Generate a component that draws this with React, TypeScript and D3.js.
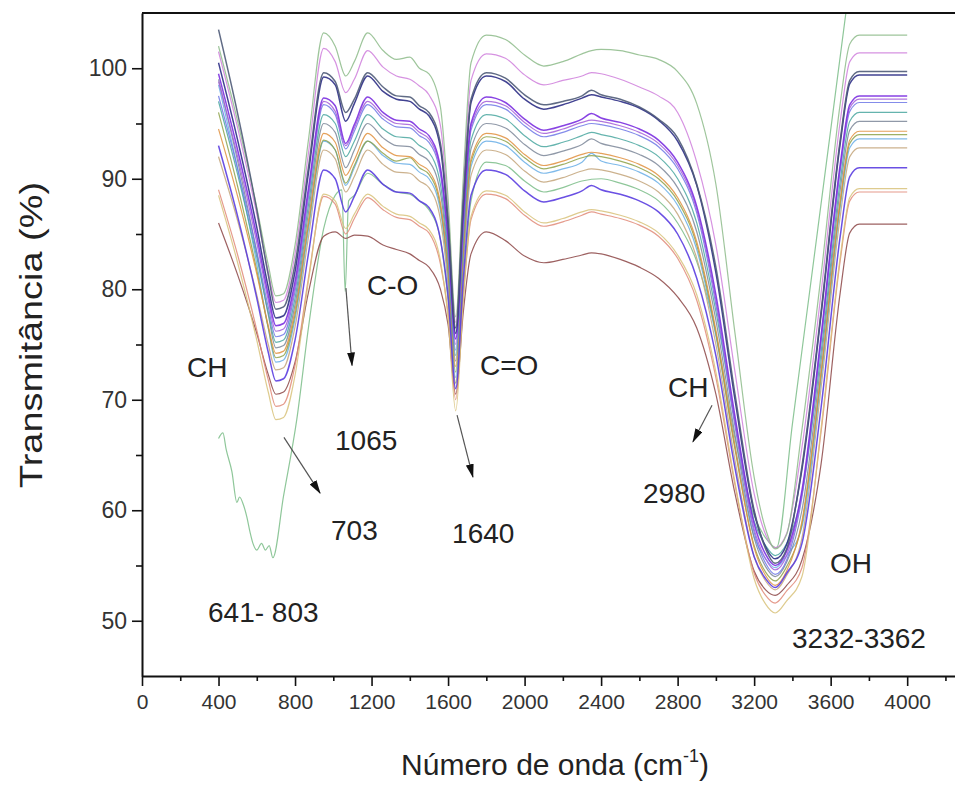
import React, { useEffect, useRef } from 'react';
import * as d3 from 'd3';

// wavenumber grid shared by the regular spectra (cm-1)
const WAVENUMBERS = [400, 500, 600, 660, 700, 740, 800, 870, 950, 1010, 1065, 1110, 1180, 1260, 1330, 1400, 1450, 1500, 1560, 1600, 1640, 1680, 1720, 1800, 1900, 2000, 2100, 2200, 2300, 2350, 2400, 2500, 2600, 2700, 2800, 2900, 3000, 3100, 3200, 3260, 3310, 3370, 3450, 3550, 3650, 3700, 3750, 4000];

// transmittance (%) of each sample
const green = [102.0, 95.2, 87.4, 82.2, 79.4, 79.6, 84.0, 93.5, 103.2, 102.0, 99.3, 100.6, 103.2, 101.6, 100.8, 101.0, 100.0, 99.5, 96.5, 88.2, 77.5, 90.2, 100.5, 103.0, 102.6, 101.2, 100.2, 100.6, 101.3, 101.6, 101.7, 101.6, 101.2, 100.8, 99.7, 96.8, 89.5, 76.0, 63.0, 58.3, 56.5, 57.8, 67.3, 81.3, 96.8, 102.2, 103.0, 103.0];
const orchid = [101.5, 94.6, 86.8, 81.6, 78.8, 79.0, 83.2, 92.3, 101.8, 100.6, 97.8, 99.0, 101.6, 100.1, 99.3, 99.0, 98.4, 97.6, 94.8, 87.2, 77.0, 89.2, 98.9, 101.3, 100.9, 99.4, 98.5, 98.9, 99.3, 99.6, 99.5, 99.0, 98.3, 97.5, 96.0, 91.5, 84.0, 72.5, 61.5, 57.8, 56.6, 57.9, 65.7, 79.7, 95.2, 100.6, 101.4, 101.4];
const slate = [103.5, 95.9, 87.2, 81.3, 78.2, 78.4, 82.3, 91.0, 99.6, 98.8, 96.0, 97.2, 99.6, 98.3, 97.5, 97.4, 96.6, 96.0, 93.2, 86.2, 76.5, 88.1, 97.2, 99.6, 99.1, 97.6, 96.7, 97.0, 97.5, 98.0, 97.6, 97.2, 96.5, 95.4, 93.7, 89.5, 82.0, 70.5, 60.0, 56.5, 55.2, 56.5, 64.0, 78.0, 93.5, 98.9, 99.7, 99.7];
const navy = [100.5, 93.5, 85.6, 80.2, 77.4, 77.6, 81.6, 90.5, 99.2, 98.5, 95.2, 96.8, 99.3, 97.9, 97.2, 97.0, 96.3, 95.7, 92.8, 85.8, 76.0, 87.7, 96.9, 99.3, 98.8, 97.2, 96.3, 96.7, 97.3, 97.6, 97.4, 97.0, 96.4, 95.3, 93.4, 89.4, 81.5, 70.0, 59.8, 56.7, 55.6, 56.9, 63.7, 77.7, 93.2, 98.6, 99.4, 99.4];
const purple = [99.5, 92.6, 84.8, 79.5, 76.7, 76.9, 80.7, 89.1, 97.3, 96.6, 93.2, 94.9, 97.4, 96.0, 95.3, 95.2, 94.5, 93.9, 91.0, 84.7, 75.5, 86.5, 95.0, 97.4, 96.9, 95.4, 94.4, 94.8, 95.4, 95.9, 95.5, 95.1, 94.5, 93.5, 91.5, 87.5, 79.5, 68.5, 58.8, 56.0, 55.0, 56.3, 61.8, 75.8, 91.3, 96.7, 97.5, 97.5];
const violet = [98.8, 92.0, 84.2, 79.0, 76.2, 76.4, 80.2, 88.7, 97.0, 96.1, 93.0, 94.6, 97.0, 95.7, 95.0, 94.9, 94.2, 93.6, 90.7, 84.3, 75.0, 86.1, 94.7, 97.0, 96.6, 95.1, 94.1, 94.5, 95.1, 95.3, 95.2, 94.8, 94.2, 93.2, 91.2, 87.2, 79.0, 68.0, 58.3, 55.6, 54.6, 55.9, 61.5, 75.5, 91.0, 96.4, 97.2, 97.2];
const periwinkle = [97.5, 90.9, 83.4, 78.4, 75.7, 75.9, 79.8, 88.3, 96.7, 95.8, 92.7, 94.3, 96.7, 95.4, 94.7, 94.6, 93.9, 93.3, 90.4, 83.9, 74.5, 85.7, 94.4, 96.7, 96.3, 94.8, 93.8, 94.2, 94.8, 95.0, 94.9, 94.5, 93.9, 92.9, 90.9, 86.9, 78.6, 67.6, 58.0, 55.2, 54.2, 55.5, 61.2, 75.2, 90.7, 96.1, 96.9, 96.9];
const teal = [97.0, 90.4, 82.9, 77.9, 75.2, 75.4, 79.2, 87.6, 95.8, 95.0, 92.0, 93.4, 95.8, 94.5, 93.8, 93.7, 93.0, 92.4, 89.5, 83.2, 74.0, 85.0, 93.5, 95.8, 95.4, 93.9, 92.9, 93.3, 93.9, 94.2, 94.0, 93.6, 93.0, 92.0, 90.0, 86.0, 78.0, 68.0, 59.0, 56.8, 55.9, 57.0, 61.5, 74.3, 89.8, 95.2, 96.0, 96.0];
const gray = [99.0, 91.6, 83.3, 77.7, 74.7, 74.9, 78.6, 86.9, 95.0, 94.2, 91.0, 92.6, 95.0, 93.7, 93.0, 92.9, 92.2, 91.6, 88.7, 82.6, 73.5, 84.4, 92.7, 95.0, 94.6, 93.1, 92.1, 92.5, 93.1, 93.6, 93.2, 92.8, 92.2, 91.2, 89.2, 85.2, 77.2, 66.8, 57.5, 54.9, 54.0, 55.3, 60.0, 73.5, 89.0, 94.4, 95.2, 95.2];
const orange = [94.5, 88.4, 81.4, 76.7, 74.2, 74.4, 78.1, 86.2, 94.1, 93.3, 90.3, 91.7, 94.1, 92.8, 92.1, 92.0, 91.3, 90.7, 87.8, 81.9, 73.0, 83.7, 91.8, 94.1, 93.7, 92.2, 91.2, 91.6, 92.2, 92.4, 92.3, 91.9, 91.3, 90.3, 88.3, 84.3, 76.3, 65.8, 56.6, 54.1, 53.2, 54.5, 59.0, 72.6, 88.1, 93.5, 94.3, 94.3];
const olive = [96.0, 89.3, 81.7, 76.5, 73.8, 74.0, 77.7, 85.8, 93.5, 92.6, 89.6, 91.2, 93.4, 92.3, 91.6, 91.9, 91.0, 90.4, 87.5, 81.5, 72.5, 83.3, 91.5, 93.8, 93.4, 91.9, 90.9, 91.3, 91.9, 92.1, 92.0, 91.6, 91.0, 90.0, 88.0, 84.0, 76.0, 65.5, 56.8, 54.4, 53.6, 54.9, 58.8, 72.3, 87.8, 93.2, 94.0, 94.0];
const sky = [98.5, 90.9, 82.3, 76.5, 73.4, 73.6, 77.3, 85.4, 93.4, 92.6, 89.4, 91.0, 93.4, 92.1, 91.4, 91.3, 90.6, 90.0, 87.1, 81.1, 72.0, 82.8, 91.1, 93.4, 93.0, 91.5, 90.5, 90.9, 91.5, 92.3, 91.6, 91.2, 90.6, 89.6, 87.6, 83.6, 75.8, 65.8, 57.6, 55.6, 54.8, 55.9, 58.5, 71.9, 87.4, 92.8, 93.6, 93.6];
const tan = [92.0, 86.2, 79.5, 75.0, 72.7, 72.9, 76.6, 84.7, 92.6, 91.8, 88.8, 90.2, 92.6, 91.3, 90.6, 90.5, 89.8, 89.2, 86.3, 80.4, 71.5, 82.2, 90.3, 92.6, 92.2, 90.7, 89.7, 90.1, 90.7, 90.9, 90.8, 90.4, 89.8, 88.8, 86.8, 82.8, 75.0, 64.5, 55.8, 53.6, 52.8, 54.1, 57.5, 71.1, 86.6, 92.0, 92.8, 92.8];
const blueViolet = [93.0, 86.6, 79.2, 74.3, 71.7, 71.9, 75.4, 83.2, 90.8, 90.0, 87.0, 88.4, 90.8, 89.5, 88.8, 88.7, 88.0, 87.4, 84.5, 79.4, 71.0, 81.0, 88.5, 90.8, 90.4, 88.9, 87.9, 88.3, 88.9, 89.4, 89.0, 88.6, 88.0, 87.0, 85.0, 81.0, 74.0, 63.8, 55.8, 53.8, 53.0, 54.3, 57.0, 69.3, 84.8, 90.2, 91.0, 91.0];
const khaki = [88.5, 82.4, 75.4, 70.7, 68.2, 68.4, 72.2, 80.7, 88.6, 88.0, 85.5, 86.8, 88.6, 87.5, 86.8, 86.6, 86.0, 85.4, 82.6, 77.4, 69.0, 79.1, 86.6, 88.9, 88.5, 87.0, 86.0, 86.4, 87.0, 87.2, 87.1, 86.7, 86.1, 85.1, 83.1, 79.5, 72.5, 62.5, 53.8, 51.5, 50.7, 51.8, 54.0, 67.4, 82.9, 88.3, 89.1, 89.1];
const salmon = [89.0, 83.1, 76.3, 71.8, 69.4, 69.6, 73.1, 81.0, 88.4, 87.7, 85.0, 86.4, 88.3, 87.2, 86.5, 86.3, 85.7, 85.1, 82.3, 77.9, 70.0, 79.4, 86.3, 88.6, 88.2, 86.7, 85.7, 86.1, 86.7, 87.0, 86.8, 86.4, 85.8, 84.8, 82.8, 79.0, 72.0, 62.3, 54.3, 52.3, 51.6, 52.7, 54.8, 67.1, 82.6, 88.0, 88.8, 88.8];
const brown = [86.0, 81.3, 76.0, 72.3, 70.5, 70.7, 73.4, 79.7, 84.8, 85.2, 84.6, 84.9, 84.8, 84.0, 83.6, 83.2, 82.6, 82.0, 80.0, 76.8, 70.5, 78.0, 83.2, 85.2, 84.4, 83.0, 82.4, 82.7, 83.1, 83.3, 83.2, 82.7, 82.0, 81.0, 79.3, 76.5, 70.5, 61.5, 54.5, 52.8, 52.3, 53.2, 55.5, 64.2, 79.7, 85.1, 85.9, 85.9];

// one odd sample, measured on its own grid
const OUTLIER_WAVENUMBERS = [400, 423, 440, 470, 496, 510, 530, 548, 565, 580, 600, 625, 645, 665, 684, 740, 809, 870, 950, 1010, 1045, 1062, 1080, 1110, 1180, 1260, 1330, 1400, 1450, 1500, 1560, 1600, 1640, 1680, 1720, 1800, 1900, 2000, 2100, 2200, 2300, 2400, 2500, 2600, 2700, 2800, 2900, 3000, 3100, 3200, 3260, 3316, 3400, 3500, 3600, 3690, 3730];
const outlier = [66.5, 67.0, 65.5, 63.5, 60.7, 61.2, 60.5, 59.4, 58.0, 57.0, 56.4, 57.0, 56.4, 56.8, 55.7, 61.3, 68.2, 76.5, 85.5, 88.5, 89.0, 79.8, 88.0, 88.5, 90.5, 89.5, 88.8, 88.6, 88.0, 87.2, 84.5, 79.0, 71.5, 80.0, 88.0, 91.5, 91.2, 89.8, 88.8, 89.2, 89.8, 90.0, 89.6, 89.0, 88.0, 86.0, 82.5, 76.0, 66.5, 59.5, 57.5, 56.6, 67.8, 81.1, 94.4, 106.4, 111.7];

const SAMPLE_COLORS = ['#8c4545', '#e08a78', '#d8c27a', '#c3a57a', '#68aee6', '#8ea24a', '#e0913e', '#7d8799', '#4aa7a0', '#6f78e6', '#a35ed8', '#cf7fdc', '#8dbb8a', '#5a3de0', '#7b2fe0', '#2e2f86', '#4f5b78'];

const X_TICKS = [0, 400, 800, 1200, 1600, 2000, 2400, 2800, 3200, 3600, 4000];
const X_MINOR = [200, 600, 1000, 1400, 1800, 2200, 2600, 3000, 3400, 3800, 4200];
const Y_TICKS = [50, 60, 70, 80, 90, 100];
const Y_MINOR = [55, 65, 75, 85, 95];

// band labels, placed in data units (wavenumber, transmittance)
const LABELS = [
  { text: 'CH', wn: 235, t: 72.1 },
  { text: 'C-O', wn: 1176, t: 79.5 },
  { text: '1065', wn: 1009, t: 65.45 },
  { text: 'C=O', wn: 1767, t: 72.25 },
  { text: '703', wn: 988, t: 57.3 },
  { text: '1640', wn: 1621, t: 57.05 },
  { text: '641- 803', wn: 345, t: 49.9 },
  { text: 'CH', wn: 2750, t: 70.25 },
  { text: '2980', wn: 2619, t: 60.65 },
  { text: 'OH', wn: 3597, t: 54.3 },
  { text: '3232-3362', wn: 3398, t: 47.5 },
];
const ARROWS = [
  { wn1: 742, t1: 66.6, wn2: 931, t2: 61.55 },
  { wn1: 1066, t1: 80.1, wn2: 1098, t2: 73.1 },
  { wn1: 1647, t1: 68.6, wn2: 1730, t2: 63.0 },
  { wn1: 2980, t1: 69.5, wn2: 2880, t2: 66.2 },
];

export default function App() {
  const svgRef = useRef(null);
  const width = 955;
  const height = 785;

  useEffect(() => {
    const svg = d3.select(svgRef.current);
    svg.selectAll('*').remove();

    const x = d3.scaleLinear().domain([0, 4250]).range([142, 955]);
    const y = d3.scaleLinear().domain([45, 105]).range([676, 13]);
    const font = 'Arial, "Liberation Sans", Helvetica, sans-serif';

    svg.append('rect').attr('width', width).attr('height', height).attr('fill', '#fff');

    const defs = svg.append('defs');
    defs.append('clipPath').attr('id', 'plot-clip')
      .append('rect').attr('x', 142).attr('y', 13).attr('width', 813).attr('height', 663);
    defs.append('marker').attr('id', 'arrow-head')
      .attr('markerUnits', 'userSpaceOnUse')
      .attr('markerWidth', 14).attr('markerHeight', 8)
      .attr('refX', 13).attr('refY', 4).attr('orient', 'auto')
      .append('path').attr('d', 'M0,0 L14,4 L0,8 Z').attr('fill', '#111');

    const samples = [brown, salmon, khaki, tan, sky, olive, orange, gray, teal, periwinkle, violet, orchid, green, blueViolet, purple, navy, slate];

    const line = d3.line()
      .x(d => x(d[0]))
      .y(d => y(d[1]))
      .curve(d3.curveMonotoneX);

    const plot = svg.append('g').attr('clip-path', 'url(#plot-clip)');

    plot.append('path')
      .attr('d', line(OUTLIER_WAVENUMBERS.map((w, i) => [w, outlier[i]])))
      .attr('fill', 'none').attr('stroke', '#8fc79a').attr('stroke-width', 1.2);

    samples.forEach((vals, k) => {
      const dark = k >= 13;
      plot.append('path')
        .attr('d', line(WAVENUMBERS.map((w, i) => [w, vals[i]])))
        .attr('fill', 'none')
        .attr('stroke', SAMPLE_COLORS[k])
        .attr('stroke-width', dark ? 1.5 : 1.2)
        .attr('stroke-opacity', dark ? 0.9 : 0.85);
    });

    // axes
    const xAxis = svg.append('g').attr('transform', 'translate(0,676)')
      .call(d3.axisBottom(x).tickValues(X_TICKS).tickSize(10).tickSizeOuter(0).tickFormat(d3.format('d')));
    svg.append('g').attr('transform', 'translate(0,676)')
      .call(d3.axisBottom(x).tickValues(X_MINOR).tickSize(5).tickFormat(() => ''))
      .select('.domain').remove();
    xAxis.selectAll('text').attr('font-size', 21).attr('font-family', font).attr('fill', '#333').attr('dy', '0.95em');

    const yAxis = svg.append('g').attr('transform', 'translate(142,0)')
      .call(d3.axisLeft(y).tickValues(Y_TICKS).tickSize(10).tickSizeOuter(0));
    svg.append('g').attr('transform', 'translate(142,0)')
      .call(d3.axisLeft(y).tickValues(Y_MINOR).tickSize(6).tickFormat(() => ''))
      .select('.domain').remove();
    yAxis.selectAll('text').attr('font-size', 23).attr('font-family', font).attr('fill', '#333').attr('x', -15);

    svg.selectAll('.domain').attr('stroke', '#111').attr('stroke-width', 2);
    svg.selectAll('.tick line').attr('stroke', '#111').attr('stroke-width', 1.6);

    svg.append('line').attr('x1', 142).attr('x2', 955).attr('y1', 13).attr('y2', 13)
      .attr('stroke', '#111').attr('stroke-width', 2);

    // axis titles
    const xt = svg.append('text').attr('x', 555).attr('y', 775).attr('text-anchor', 'middle')
      .attr('font-size', 30).attr('font-family', font).attr('fill', '#222');
    xt.append('tspan').text('Número de onda (cm');
    xt.append('tspan').attr('font-size', 18).attr('dy', -13).text('-1');
    xt.append('tspan').attr('dy', 13).text(')');

    svg.append('text').attr('transform', 'translate(42,335) rotate(-90)')
      .attr('text-anchor', 'middle').attr('font-size', 32).attr('font-family', font).attr('fill', '#222')
      .attr('textLength', 306).attr('lengthAdjust', 'spacingAndGlyphs')
      .text('Transmitância (%)');

    // band annotations
    ARROWS.forEach(a => {
      svg.append('line')
        .attr('x1', x(a.wn1)).attr('y1', y(a.t1))
        .attr('x2', x(a.wn2)).attr('y2', y(a.t2))
        .attr('stroke', '#555').attr('stroke-width', 1.2)
        .attr('marker-end', 'url(#arrow-head)');
    });
    LABELS.forEach(l => {
      svg.append('text').attr('x', x(l.wn)).attr('y', y(l.t))
        .attr('font-size', 28).attr('font-family', font).attr('fill', '#222')
        .text(l.text);
    });
  }, []);

  return (
    <svg ref={svgRef} width={width} height={height}
      style={{ position: 'absolute', left: 0, top: 0, display: 'block' }} />
  );
}
